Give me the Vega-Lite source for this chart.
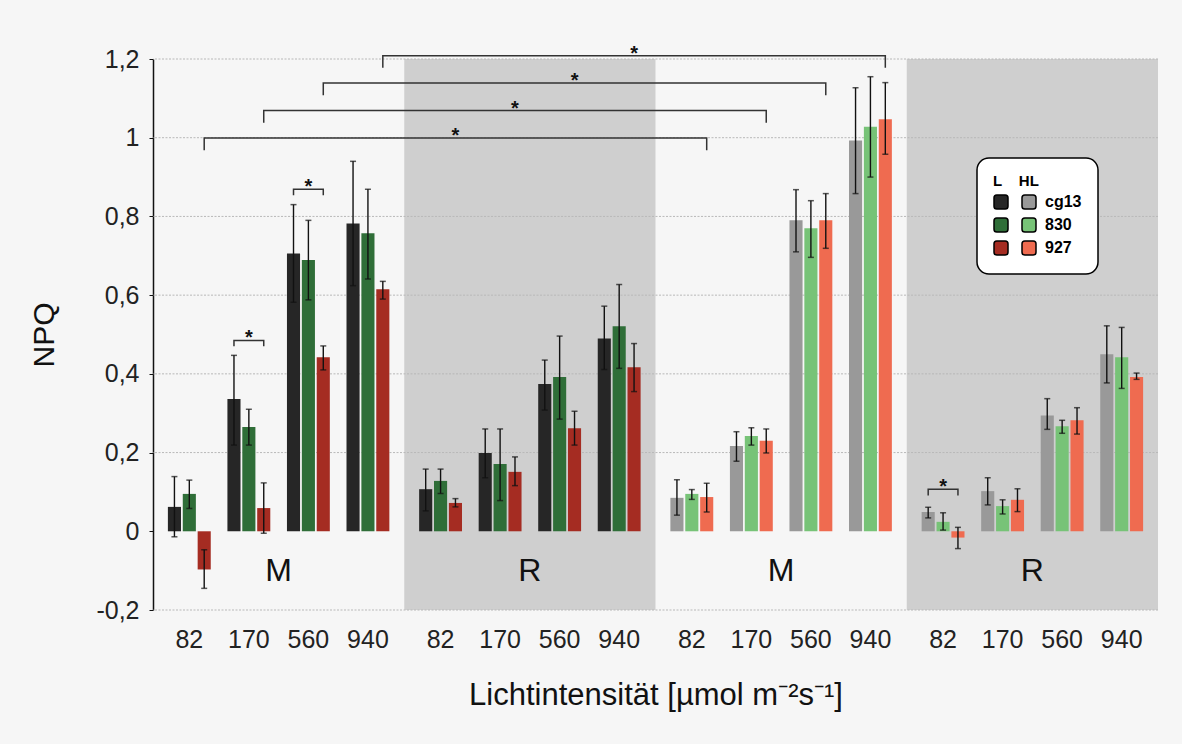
{
  "$schema": "https://vega.github.io/schema/vega-lite/v6.json",
  "width": 1005,
  "height": 551,
  "autosize": {"type": "none"},
  "padding": {"left": 153, "top": 59, "right": 24, "bottom": 134},
  "background": "#f6f6f6",
  "config": {
    "view": {"stroke": null},
    "font": "Liberation Sans",
    "text": {"font": "Liberation Sans"}
  },
  "datasets": {
    "bars": [
      {"block":"M1","k":"82 cg13","key":"L cg13","v":0.062,"lo":-0.014,"hi":0.139},
      {"block":"M1","k":"82 830","key":"L 830","v":0.095,"lo":0.058,"hi":0.130},
      {"block":"M1","k":"82 927","key":"L 927","v":-0.097,"lo":-0.145,"hi":-0.047},
      {"block":"M1","k":"170 cg13","key":"L cg13","v":0.336,"lo":0.219,"hi":0.447},
      {"block":"M1","k":"170 830","key":"L 830","v":0.265,"lo":0.219,"hi":0.310},
      {"block":"M1","k":"170 927","key":"L 927","v":0.059,"lo":-0.005,"hi":0.123},
      {"block":"M1","k":"560 cg13","key":"L cg13","v":0.706,"lo":0.582,"hi":0.830},
      {"block":"M1","k":"560 830","key":"L 830","v":0.689,"lo":0.588,"hi":0.790},
      {"block":"M1","k":"560 927","key":"L 927","v":0.442,"lo":0.410,"hi":0.471},
      {"block":"M1","k":"940 cg13","key":"L cg13","v":0.782,"lo":0.624,"hi":0.940},
      {"block":"M1","k":"940 830","key":"L 830","v":0.757,"lo":0.641,"hi":0.869},
      {"block":"M1","k":"940 927","key":"L 927","v":0.615,"lo":0.590,"hi":0.635},
      {"block":"R1","k":"82 cg13","key":"L cg13","v":0.107,"lo":0.052,"hi":0.158},
      {"block":"R1","k":"82 830","key":"L 830","v":0.128,"lo":0.096,"hi":0.158},
      {"block":"R1","k":"82 927","key":"L 927","v":0.072,"lo":0.062,"hi":0.083},
      {"block":"R1","k":"170 cg13","key":"L cg13","v":0.199,"lo":0.136,"hi":0.260},
      {"block":"R1","k":"170 830","key":"L 830","v":0.171,"lo":0.078,"hi":0.260},
      {"block":"R1","k":"170 927","key":"L 927","v":0.151,"lo":0.116,"hi":0.189},
      {"block":"R1","k":"560 cg13","key":"L cg13","v":0.374,"lo":0.308,"hi":0.435},
      {"block":"R1","k":"560 830","key":"L 830","v":0.392,"lo":0.285,"hi":0.496},
      {"block":"R1","k":"560 927","key":"L 927","v":0.262,"lo":0.219,"hi":0.305},
      {"block":"R1","k":"940 cg13","key":"L cg13","v":0.490,"lo":0.411,"hi":0.572},
      {"block":"R1","k":"940 830","key":"L 830","v":0.521,"lo":0.414,"hi":0.627},
      {"block":"R1","k":"940 927","key":"L 927","v":0.417,"lo":0.355,"hi":0.477},
      {"block":"M2","k":"82 cg13","key":"HL cg13","v":0.085,"lo":0.041,"hi":0.131},
      {"block":"M2","k":"82 830","key":"HL 830","v":0.095,"lo":0.081,"hi":0.106},
      {"block":"M2","k":"82 927","key":"HL 927","v":0.087,"lo":0.049,"hi":0.122},
      {"block":"M2","k":"170 cg13","key":"HL cg13","v":0.217,"lo":0.178,"hi":0.253},
      {"block":"M2","k":"170 830","key":"HL 830","v":0.242,"lo":0.219,"hi":0.263},
      {"block":"M2","k":"170 927","key":"HL 927","v":0.230,"lo":0.199,"hi":0.260},
      {"block":"M2","k":"560 cg13","key":"HL cg13","v":0.790,"lo":0.710,"hi":0.868},
      {"block":"M2","k":"560 830","key":"HL 830","v":0.770,"lo":0.696,"hi":0.840},
      {"block":"M2","k":"560 927","key":"HL 927","v":0.790,"lo":0.719,"hi":0.858},
      {"block":"M2","k":"940 cg13","key":"HL cg13","v":0.993,"lo":0.858,"hi":1.127},
      {"block":"M2","k":"940 830","key":"HL 830","v":1.028,"lo":0.900,"hi":1.155},
      {"block":"M2","k":"940 927","key":"HL 927","v":1.047,"lo":0.958,"hi":1.140},
      {"block":"R2","k":"82 cg13","key":"HL cg13","v":0.049,"lo":0.034,"hi":0.061},
      {"block":"R2","k":"82 830","key":"HL 830","v":0.024,"lo":0.003,"hi":0.047},
      {"block":"R2","k":"82 927","key":"HL 927","v":-0.016,"lo":-0.044,"hi":0.010},
      {"block":"R2","k":"170 cg13","key":"HL cg13","v":0.102,"lo":0.067,"hi":0.136},
      {"block":"R2","k":"170 830","key":"HL 830","v":0.064,"lo":0.044,"hi":0.080},
      {"block":"R2","k":"170 927","key":"HL 927","v":0.080,"lo":0.050,"hi":0.108},
      {"block":"R2","k":"560 cg13","key":"HL cg13","v":0.294,"lo":0.259,"hi":0.337},
      {"block":"R2","k":"560 830","key":"HL 830","v":0.267,"lo":0.249,"hi":0.282},
      {"block":"R2","k":"560 927","key":"HL 927","v":0.282,"lo":0.247,"hi":0.314},
      {"block":"R2","k":"940 cg13","key":"HL cg13","v":0.450,"lo":0.377,"hi":0.522},
      {"block":"R2","k":"940 830","key":"HL 830","v":0.442,"lo":0.363,"hi":0.518},
      {"block":"R2","k":"940 927","key":"HL 927","v":0.392,"lo":0.386,"hi":0.402}
    ],
    "shade": [{"block":"R1"},{"block":"R2"}],
    "grid": [{"g":-0.2},{"g":0.2},{"g":0.4},{"g":0.6},{"g":0.8},{"g":1.0},{"g":1.2}],
    "brackets": [
      {"b":1,"i":1,"block":"M1","k":"82 927","y":0.968},
      {"b":1,"i":2,"block":"M1","k":"82 927","y":0.999},
      {"b":1,"i":3,"block":"M2","k":"82 927","y":0.999},
      {"b":1,"i":4,"block":"M2","k":"82 927","y":0.968},
      {"b":2,"i":1,"block":"M1","k":"170 927","y":1.038},
      {"b":2,"i":2,"block":"M1","k":"170 927","y":1.069},
      {"b":2,"i":3,"block":"M2","k":"170 927","y":1.069},
      {"b":2,"i":4,"block":"M2","k":"170 927","y":1.038},
      {"b":3,"i":1,"block":"M1","k":"560 927","y":1.108},
      {"b":3,"i":2,"block":"M1","k":"560 927","y":1.139},
      {"b":3,"i":3,"block":"M2","k":"560 927","y":1.139},
      {"b":3,"i":4,"block":"M2","k":"560 927","y":1.108},
      {"b":4,"i":1,"block":"M1","k":"940 927","y":1.178},
      {"b":4,"i":2,"block":"M1","k":"940 927","y":1.208},
      {"b":4,"i":3,"block":"M2","k":"940 927","y":1.208},
      {"b":4,"i":4,"block":"M2","k":"940 927","y":1.178},
      {"b":5,"i":1,"block":"M1","k":"170 cg13","y":0.470},
      {"b":5,"i":2,"block":"M1","k":"170 cg13","y":0.485},
      {"b":5,"i":3,"block":"M1","k":"170 927","y":0.485},
      {"b":5,"i":4,"block":"M1","k":"170 927","y":0.470},
      {"b":6,"i":1,"block":"M1","k":"560 cg13","y":0.854},
      {"b":6,"i":2,"block":"M1","k":"560 cg13","y":0.869},
      {"b":6,"i":3,"block":"M1","k":"560 927","y":0.869},
      {"b":6,"i":4,"block":"M1","k":"560 927","y":0.854},
      {"b":7,"i":1,"block":"R2","k":"82 cg13","y":0.091},
      {"b":7,"i":2,"block":"R2","k":"82 cg13","y":0.1065},
      {"b":7,"i":3,"block":"R2","k":"82 927","y":0.1065},
      {"b":7,"i":4,"block":"R2","k":"82 927","y":0.091}
    ],
    "stars": [
      {"block":"R1","k":"82 927","y":0.999},
      {"block":"R1","k":"170 927","y":1.069},
      {"block":"R1","k":"560 927","y":1.139},
      {"block":"R1","k":"940 927","y":1.208},
      {"block":"M1","k":"170 830","y":0.485},
      {"block":"M1","k":"560 830","y":0.869},
      {"block":"R2","k":"82 830","y":0.1065}
    ],
    "blocklabels": [
      {"block":"M1","t":"M","y":-0.1},
      {"block":"R1","t":"R","y":-0.1},
      {"block":"M2","t":"M","y":-0.1},
      {"block":"R2","t":"R","y":-0.1}
    ],
    "xlabels": [
      {"block":"M1","k":"82 830","t":"82"},{"block":"M1","k":"170 830","t":"170"},{"block":"M1","k":"560 830","t":"560"},{"block":"M1","k":"940 830","t":"940"},
      {"block":"R1","k":"82 830","t":"82"},{"block":"R1","k":"170 830","t":"170"},{"block":"R1","k":"560 830","t":"560"},{"block":"R1","k":"940 830","t":"940"},
      {"block":"M2","k":"82 830","t":"82"},{"block":"M2","k":"170 830","t":"170"},{"block":"M2","k":"560 830","t":"560"},{"block":"M2","k":"940 830","t":"940"},
      {"block":"R2","k":"82 830","t":"82"},{"block":"R2","k":"170 830","t":"170"},{"block":"R2","k":"560 830","t":"560"},{"block":"R2","k":"940 830","t":"940"}
    ]
  },
  "layer": [
    {
      "data": {"name": "shade"},
      "mark": {"type": "rect", "color": "#cfcfcf"},
      "encoding": {
        "x": {"field": "block", "type": "nominal", "title": "Lichtintensität [µmol m⁻²s⁻¹]", "scale": {"domain": ["M1","R1","M2","R2"], "paddingInner": 0, "paddingOuter": 0}},
        "y": {"datum": -0.2, "type": "quantitative", "title": "NPQ"},
        "y2": {"datum": 1.2}
      }
    },
    {
      "data": {"name": "grid"},
      "mark": {"type": "rule", "color": "#b8b8b8", "strokeWidth": 1, "strokeDash": [2, 1.5]},
      "encoding": {
        "y": {"field": "g", "type": "quantitative", "title": "NPQ"}
      }
    },
    {
      "data": {"name": "bars"},
      "mark": {"type": "bar", "opacity": 1},
      "encoding": {
        "x": {"field": "block", "type": "nominal", "title": "Lichtintensität [µmol m⁻²s⁻¹]", "scale": {"domain": ["M1","R1","M2","R2"], "paddingInner": 0, "paddingOuter": 0},
          "axis": {"labels": false, "ticks": false, "domain": false, "titleFontSize": 31, "titleFontWeight": "normal", "titleColor": "#111", "titlePadding": 70, "titleFont": "Liberation Sans"}},
        "xOffset": {"field": "k", "type": "nominal", "scale": {"domain": ["82 cg13","82 830","82 927","gapA","170 cg13","170 830","170 927","gapB","560 cg13","560 830","560 927","gapC","940 cg13","940 830","940 927"], "paddingInner": 0.12, "paddingOuter": 1.07}},
        "y": {"field": "v", "type": "quantitative", "title": "NPQ",
          "scale": {"domain": [-0.2, 1.2], "nice": false, "zero": false},
          "axis": {"values": [-0.2, 0, 0.2, 0.4, 0.6, 0.8, 1, 1.2], "grid": false,
            "labelExpr": "replace(replace(format(datum.value, '.1~f'), '.', ','), '\u2212', '-')",
            "domainColor": "#111", "domainWidth": 1.5, "tickColor": "#111", "tickSize": 4, "tickWidth": 1,
            "labelFontSize": 25, "labelColor": "#222", "labelPadding": 10, "labelFont": "Liberation Sans",
            "titleFontSize": 30, "titleFontWeight": "normal", "titleColor": "#111", "titlePadding": 36, "titleFont": "Liberation Sans"}},
        "color": {"field": "key", "type": "nominal",
          "scale": {"domain": ["L cg13","L 830","L 927","HL cg13","HL 830","HL 927"],
                    "range": ["#262626","#2f6e38","#a52c22","#999999","#77c377","#ef6b50"]},
          "legend": {"orient": "none", "legendX": 824, "legendY": 99, "columns": 2,
            "title": "L\u00a0\u00a0\u00a0\u00a0HL", "titleFontSize": 15, "titleFontWeight": "bold", "titleColor": "#000", "titlePadding": 5, "titleFont": "Liberation Sans",
            "labelExpr": "indexof(datum.label, 'HL ') == 0 ? slice(datum.label, 3) : ''",
            "labelFontSize": 16, "labelFontWeight": "bold", "labelColor": "#000", "labelOffset": 8, "labelFont": "Liberation Sans",
            "symbolType": "M -0.6 -1 L 0.6 -1 Q 1 -1 1 -0.6 L 1 0.6 Q 1 1 0.6 1 L -0.6 1 Q -1 1 -1 0.6 L -1 -0.6 Q -1 -1 -0.6 -1 Z",
            "symbolSize": 196, "symbolStrokeColor": "#000", "symbolStrokeWidth": 1.5, "symbolOpacity": 1,
            "rowPadding": 3, "columnPadding": 2,
            "fillColor": "white", "strokeColor": "#000", "cornerRadius": 12, "padding": 16,
            "encode": {"legend": {"update": {"strokeWidth": {"value": 1.5}}}}}}
      }
    },
    {
      "data": {"name": "bars"},
      "mark": {"type": "rule", "color": "#111", "strokeWidth": 1.4},
      "encoding": {
        "x": {"field": "block", "type": "nominal", "title": "Lichtintensität [µmol m⁻²s⁻¹]", "scale": {"domain": ["M1","R1","M2","R2"], "paddingInner": 0, "paddingOuter": 0}},
        "xOffset": {"field": "k", "type": "nominal", "scale": {"domain": ["82 cg13","82 830","82 927","gapA","170 cg13","170 830","170 927","gapB","560 cg13","560 830","560 927","gapC","940 cg13","940 830","940 927"], "paddingInner": 0.12, "paddingOuter": 1.07}},
        "y": {"field": "lo", "type": "quantitative", "title": "NPQ"},
        "y2": {"field": "hi"}
      }
    },
    {
      "data": {"name": "bars"},
      "mark": {"type": "tick", "color": "#111", "size": 6, "thickness": 1.5, "orient": "horizontal"},
      "encoding": {
        "x": {"field": "block", "type": "nominal", "title": "Lichtintensität [µmol m⁻²s⁻¹]", "scale": {"domain": ["M1","R1","M2","R2"], "paddingInner": 0, "paddingOuter": 0}},
        "xOffset": {"field": "k", "type": "nominal", "scale": {"domain": ["82 cg13","82 830","82 927","gapA","170 cg13","170 830","170 927","gapB","560 cg13","560 830","560 927","gapC","940 cg13","940 830","940 927"], "paddingInner": 0.12, "paddingOuter": 1.07}},
        "y": {"field": "lo", "type": "quantitative", "title": "NPQ"}
      }
    },
    {
      "data": {"name": "bars"},
      "mark": {"type": "tick", "color": "#111", "size": 6, "thickness": 1.5, "orient": "horizontal"},
      "encoding": {
        "x": {"field": "block", "type": "nominal", "title": "Lichtintensität [µmol m⁻²s⁻¹]", "scale": {"domain": ["M1","R1","M2","R2"], "paddingInner": 0, "paddingOuter": 0}},
        "xOffset": {"field": "k", "type": "nominal", "scale": {"domain": ["82 cg13","82 830","82 927","gapA","170 cg13","170 830","170 927","gapB","560 cg13","560 830","560 927","gapC","940 cg13","940 830","940 927"], "paddingInner": 0.12, "paddingOuter": 1.07}},
        "y": {"field": "hi", "type": "quantitative", "title": "NPQ"}
      }
    },
    {
      "mark": {"type": "rule", "color": "#000", "strokeWidth": 1.5},
      "encoding": {"y": {"datum": 0, "type": "quantitative", "title": "NPQ"}}
    },
    {
      "data": {"name": "brackets"},
      "mark": {"type": "line", "color": "#333", "strokeWidth": 1.5, "interpolate": "linear"},
      "encoding": {
        "x": {"field": "block", "type": "nominal", "title": "Lichtintensität [µmol m⁻²s⁻¹]", "scale": {"domain": ["M1","R1","M2","R2"], "paddingInner": 0, "paddingOuter": 0}},
        "xOffset": {"field": "k", "type": "nominal", "scale": {"domain": ["82 cg13","82 830","82 927","gapA","170 cg13","170 830","170 927","gapB","560 cg13","560 830","560 927","gapC","940 cg13","940 830","940 927"], "paddingInner": 0.12, "paddingOuter": 1.07}},
        "y": {"field": "y", "type": "quantitative", "title": "NPQ"},
        "detail": {"field": "b", "type": "nominal"},
        "order": {"field": "i", "type": "quantitative"}
      }
    },
    {
      "data": {"name": "stars"},
      "mark": {"type": "text", "text": "*", "fontSize": 20, "fontWeight": "bold", "color": "#111", "baseline": "alphabetic", "dy": 4},
      "encoding": {
        "x": {"field": "block", "type": "nominal", "title": "Lichtintensität [µmol m⁻²s⁻¹]", "scale": {"domain": ["M1","R1","M2","R2"], "paddingInner": 0, "paddingOuter": 0}},
        "xOffset": {"field": "k", "type": "nominal", "scale": {"domain": ["82 cg13","82 830","82 927","gapA","170 cg13","170 830","170 927","gapB","560 cg13","560 830","560 927","gapC","940 cg13","940 830","940 927"], "paddingInner": 0.12, "paddingOuter": 1.07}},
        "y": {"field": "y", "type": "quantitative", "title": "NPQ"}
      }
    },
    {
      "data": {"name": "blocklabels"},
      "mark": {"type": "text", "fontSize": 32, "color": "#111", "baseline": "middle"},
      "encoding": {
        "x": {"field": "block", "type": "nominal", "title": "Lichtintensität [µmol m⁻²s⁻¹]", "scale": {"domain": ["M1","R1","M2","R2"], "paddingInner": 0, "paddingOuter": 0}},
        "y": {"field": "y", "type": "quantitative", "title": "NPQ"},
        "text": {"field": "t"}
      }
    },
    {
      "data": {"name": "xlabels"},
      "mark": {"type": "text", "fontSize": 25, "color": "#222", "baseline": "middle", "dy": 30},
      "encoding": {
        "x": {"field": "block", "type": "nominal", "title": "Lichtintensität [µmol m⁻²s⁻¹]", "scale": {"domain": ["M1","R1","M2","R2"], "paddingInner": 0, "paddingOuter": 0}},
        "xOffset": {"field": "k", "type": "nominal", "scale": {"domain": ["82 cg13","82 830","82 927","gapA","170 cg13","170 830","170 927","gapB","560 cg13","560 830","560 927","gapC","940 cg13","940 830","940 927"], "paddingInner": 0.12, "paddingOuter": 1.07}},
        "y": {"datum": -0.2, "type": "quantitative", "title": "NPQ"},
        "text": {"field": "t"}
      }
    }
  ]
}
